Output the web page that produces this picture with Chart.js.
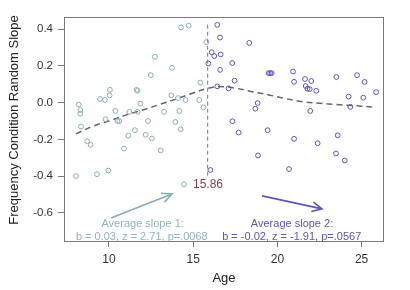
<!DOCTYPE html>
<html>
<head>
<meta charset="utf-8">
<script src="https://cdn.jsdelivr.net/npm/chart.js@4"></script>
<style>
  body { margin: 0; background: #fff; }
  canvas { display: block; }
</style>
</head>
<body>
<canvas id="slopeChart" width="410" height="290"></canvas>
<script>
// ages and random slopes, younger group (teal) and older group (purple)
const youngAge = [8.04, 8.2, 8.3, 8.3, 8.34, 8.71, 8.91, 9.29, 9.47, 9.76, 10.06, 10.04, 9.8, 9.96, 10.38, 10.5, 10.61, 10.89, 11.15, 11.21, 11.54, 11.64, 11.7, 11.7, 11.86, 12.18, 12.32, 12.48, 12.55, 12.73, 13.07, 13.27, 13.7, 13.74, 13.94, 14.1, 14.18, 14.26, 14.28, 14.55, 14.73, 14.45, 15.36, 15.42, 15.62, 15.78];
const youngSlope = [-0.40, -0.01, -0.04, -0.06, -0.13, -0.21, -0.23, -0.39, 0.02, 0.015, 0.07, 0.04, -0.09, -0.37, -0.045, -0.10, -0.10, -0.25, -0.18, -0.05, -0.15, 0.07, 0.065, -0.05, -0.005, -0.175, -0.10, 0.15, -0.195, 0.25, -0.26, -0.05, 0.04, 0.19, -0.105, 0.025, -0.045, -0.145, 0.41, 0.015, 0.42, -0.445, 0.015, 0.11, -0.025, 0.33];
const oldAge = [16.43, 16.59, 16.1, 16.25, 16.63, 15.9, 16.6, 18.33, 17.32, 17.46, 16.43, 17.1, 19.48, 19.57, 19.66, 20.93, 20.99, 21.64, 22.01, 21.68, 21.78, 21.92, 22.31, 23.5, 24.73, 25.18, 24.23, 25.1, 24.33, 21.95, 18.83, 18.69, 17.33, 17.7, 19.42, 20.99, 22.39, 23.58, 18.85, 23.48, 24.0, 20.69, 16.02, 25.86];
const oldSlope = [0.424, 0.355, 0.275, 0.254, 0.263, 0.214, 0.179, 0.326, 0.216, 0.12, 0.089, 0.078, 0.161, 0.161, 0.161, 0.17, 0.114, 0.129, 0.118, 0.091, 0.076, 0.074, 0.065, 0.14, 0.15, 0.113, 0.033, 0.027, -0.023, -0.045, -0.002, -0.033, -0.101, -0.163, -0.15, -0.197, -0.221, -0.178, -0.288, -0.277, -0.315, -0.362, -0.367, 0.057];

// smoothed trend
const trendAge = [8.04, 9, 10, 11, 12, 13, 14, 15, 15.86, 16.5, 17.5, 18.5, 19.5, 20.5, 21.5, 22.5, 23.5, 24.5, 25.86];
const trendSlope = [-0.17, -0.13, -0.10, -0.068, -0.04, -0.01, 0.02, 0.053, 0.078, 0.088, 0.079, 0.06, 0.042, 0.022, 0.005, -0.003, -0.01, -0.016, -0.025];

const breakAge = 15.86;
const breakRange = [0.425, -0.40];

const xTicks = [10, 15, 20, 25];
const yTicks = [-0.6, -0.4, -0.2, 0.0, 0.2, 0.4];

const yTitle = 'Frequency Condition Random Slope';
const slope1Text = ['Average slope 1:', 'b = 0.03, z = 2.71, p=.0068'];
const slope2Text = ['Average slope 2:', 'b = -0.02, z = -1.91, p=.0567'];

const TEAL = '#86adb9';
const PURPLE = '#5e52c4';
const FONT = '"Liberation Sans", Arial, Helvetica, sans-serif';

const toPts = (xs, ys) => xs.map((x, i) => ({x: x, y: ys[i]}));

// box + text + arrows, placed in data units
const annotate = {
  id: 'annotate',
  afterDraw(chart) {
    const {ctx, chartArea: a, scales: {x, y}} = chart;
    ctx.save();
    ctx.strokeStyle = '#7a7a7a';
    ctx.lineWidth = 1;
    ctx.strokeRect(a.left + 0.5, a.top + 0.5, a.right - a.left - 1, a.bottom - a.top);

    const arrow = (x0, y0, x1, y1, color) => {
      const px0 = x.getPixelForValue(x0), py0 = y.getPixelForValue(y0);
      const px1 = x.getPixelForValue(x1), py1 = y.getPixelForValue(y1);
      const ang = Math.atan2(py1 - py0, px1 - px0);
      ctx.strokeStyle = color;
      ctx.lineWidth = 1.6;
      ctx.beginPath();
      ctx.moveTo(px0, py0);
      ctx.lineTo(px1, py1);
      ctx.moveTo(px1 - 11 * Math.cos(ang - 0.45), py1 - 11 * Math.sin(ang - 0.45));
      ctx.lineTo(px1, py1);
      ctx.lineTo(px1 - 11 * Math.cos(ang + 0.45), py1 - 11 * Math.sin(ang + 0.45));
      ctx.stroke();
    };
    arrow(10.12, -0.628, 13.74, -0.498, TEAL);
    arrow(19.09, -0.508, 22.65, -0.579, PURPLE);

    ctx.font = '11px ' + FONT;
    ctx.textAlign = 'center';
    ctx.textBaseline = 'middle';
    ctx.fillStyle = '#8fb3be';
    ctx.fillText(slope1Text[0], x.getPixelForValue(12.0), y.getPixelForValue(-0.661));
    ctx.fillText(slope1Text[1], x.getPixelForValue(11.95), y.getPixelForValue(-0.732));
    ctx.fillStyle = PURPLE;
    ctx.fillText(slope2Text[0], x.getPixelForValue(20.87), y.getPixelForValue(-0.661));
    ctx.fillText(slope2Text[1], x.getPixelForValue(20.85), y.getPixelForValue(-0.732));

    ctx.font = '12px ' + FONT;
    ctx.fillStyle = '#7d3f50';
    ctx.fillText(breakAge.toFixed(2), x.getPixelForValue(breakAge + 0.02), y.getPixelForValue(-0.449));

    // y title, centred a bit above the plot middle like the original
    ctx.font = '13px ' + FONT;
    ctx.fillStyle = '#222';
    ctx.translate(14, 120);
    ctx.rotate(-Math.PI / 2);
    ctx.fillText(yTitle, 0, 0);
    ctx.restore();
  }
};

new Chart(document.getElementById('slopeChart'), {
  type: 'scatter',
  data: {
    datasets: [
      {
        label: 'break',
        type: 'line',
        data: [{x: breakAge, y: breakRange[0]}, {x: breakAge, y: breakRange[1]}],
        borderColor: '#8c6c88',
        borderWidth: 1,
        borderDash: [4, 3],
        pointRadius: 0,
        fill: false,
      },
      {
        label: 'young',
        data: toPts(youngAge, youngSlope),
        borderColor: TEAL,
        backgroundColor: 'transparent',
        borderWidth: 1,
        pointRadius: 2.4,
      },
      {
        label: 'old',
        data: toPts(oldAge, oldSlope),
        borderColor: PURPLE,
        backgroundColor: 'transparent',
        borderWidth: 1,
        pointRadius: 2.4,
      },
      {
        label: 'trend',
        type: 'line',
        data: toPts(trendAge, trendSlope),
        borderColor: '#666',
        borderWidth: 1.5,
        borderDash: [6, 4],
        pointRadius: 0,
        tension: 0.4,
        fill: false,
      }
    ]
  },
  options: {
    responsive: false,
    animation: false,
    layout: { padding: { top: 17, right: 26, left: 0, bottom: 0 } },
    plugins: {
      legend: { display: false },
      tooltip: { enabled: false }
    },
    scales: {
      x: {
        type: 'linear',
        min: 7.33,
        max: 26.33,
        afterFit: s => { s.height = 49; },
        afterBuildTicks: s => { s.ticks = xTicks.map(v => ({value: v})); },
        border: { display: false },
        grid: { drawOnChartArea: false, drawTicks: true, tickLength: 6, color: '#7a7a7a' },
        ticks: { color: '#333', padding: 5, font: { family: FONT, size: 12 }, callback: v => v },
        title: { display: true, text: 'Age', color: '#222', font: { family: FONT, size: 13 }, padding: { top: 0, bottom: 4 } }
      },
      y: {
        min: -0.754,
        max: 0.467,
        afterFit: s => { s.width = 64; },
        afterBuildTicks: s => { s.ticks = yTicks.map(v => ({value: v})); },
        border: { display: false },
        grid: { drawOnChartArea: false, drawTicks: true, tickLength: 6, color: '#7a7a7a' },
        ticks: { color: '#333', padding: 5, font: { family: FONT, size: 11.5 }, callback: v => v.toFixed(1) }
      }
    }
  },
  plugins: [annotate]
});
</script>
</body>
</html>
